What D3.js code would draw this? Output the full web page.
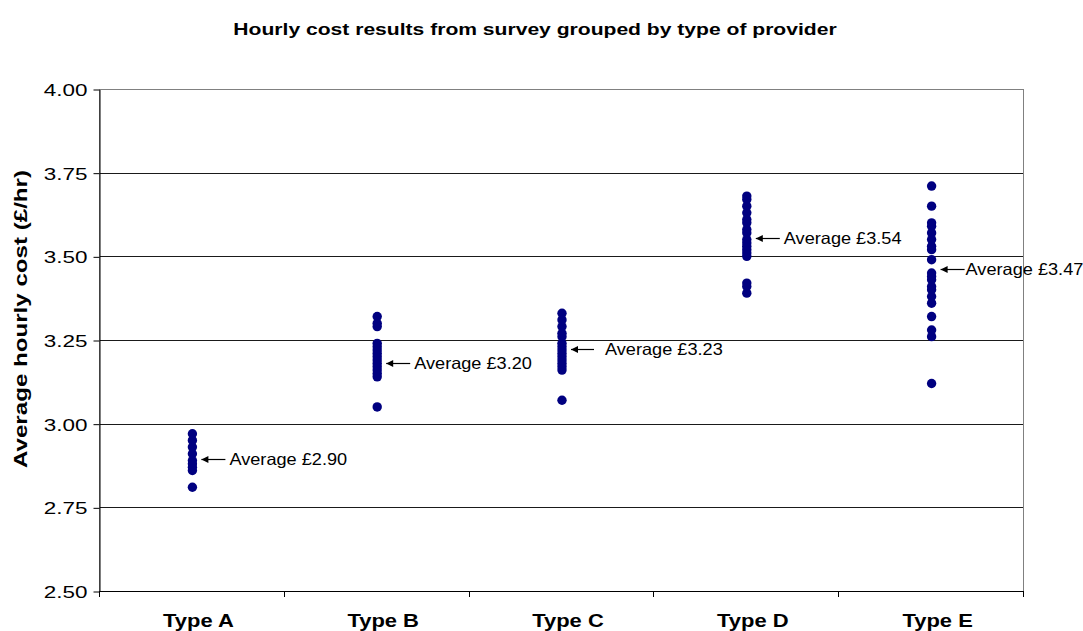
<!DOCTYPE html>
<html><head><meta charset="utf-8">
<script src="https://cdn.jsdelivr.net/npm/d3@7"></script>
<style>body{margin:0;background:#fff}svg{display:block;font-family:"Liberation Sans",Arial,sans-serif}</style>
</head><body><svg id="c" width="1083" height="631"></svg>
<script>
const categories = ["Type A","Type B","Type C","Type D","Type E"];
const typeA = [2.97,2.95,2.93,2.91,2.89,2.88,2.87,2.86,2.81];
const typeB = [3.32,3.30,3.29,3.24,3.23,3.22,3.21,3.20,3.19,3.18,3.17,3.16,3.15,3.14,3.05];
const typeC = [3.33,3.31,3.29,3.27,3.26,3.24,3.23,3.22,3.21,3.20,3.19,3.18,3.17,3.16,3.07];
const typeD = [3.68,3.67,3.65,3.63,3.61,3.60,3.58,3.57,3.55,3.54,3.53,3.52,3.51,3.50,3.42,3.41,3.39];
const typeE = [3.71,3.65,3.60,3.59,3.57,3.55,3.53,3.52,3.49,3.45,3.44,3.43,3.41,3.40,3.38,3.36,3.32,3.28,3.26,3.12];
const averageLabels = ["Average £2.90","Average £3.20","Average £3.23","Average £3.54","Average £3.47"];
const arrowValues = [2.895,3.18,3.222,3.555,3.462];
const yTicks = [2.50,2.75,3.00,3.25,3.50,3.75,4.00];
const series = [typeA,typeB,typeC,typeD,typeE];

const svg = d3.select("#c");
const L=99,R=1023,T=89,B=591;
const x = d3.scaleBand().domain(categories).range([L,R]);
const y = d3.scaleLinear().domain([2.5,4.0]).range([B,T]);
const stretch = (sel,k)=>sel.each(function(){const w=this.getComputedTextLength();d3.select(this).attr("textLength",w*k).attr("lengthAdjust","spacingAndGlyphs");});

svg.append("text").attr("x",535).attr("y",35).attr("text-anchor","middle")
  .attr("font-size",17).attr("font-weight","bold").text("Hourly cost results from survey grouped by type of provider")
  .call(stretch,1.24);

// gridlines
svg.append("g").selectAll("line").data(yTicks.filter(d=>d>2.5&&d<4)).join("line")
  .attr("x1",L).attr("x2",R).attr("y1",d=>Math.round(y(d))+0.5).attr("y2",d=>Math.round(y(d))+0.5)
  .attr("stroke","#1a1a1a").attr("stroke-width",1);
// plot border
svg.append("rect").attr("x",L+0.5).attr("y",T+0.5).attr("width",R-L).attr("height",B-T)
  .attr("fill","none").attr("stroke","#808080");

// y axis
const ya = svg.append("g").attr("transform",`translate(${L+0.5},0.5)`)
  .call(d3.axisLeft(y).tickValues(yTicks).tickFormat(d3.format(".2f")).tickSize(6).tickSizeOuter(0));
ya.select(".domain").attr("stroke","#000");
ya.selectAll("text").attr("font-size",17).attr("fill","#000").attr("font-family","Liberation Sans, Arial, sans-serif")
  .attr("x",-12).attr("dy","0.36em").call(stretch,1.32);
ya.selectAll("line").attr("stroke","#000");

// x axis
svg.append("line").attr("x1",L).attr("x2",R+1).attr("y1",B+0.5).attr("y2",B+0.5).attr("stroke","#000");
const bounds = categories.map(c=>x(c)).concat([R]);
svg.append("g").selectAll("line").data(bounds).join("line")
  .attr("x1",d=>Math.round(d)+0.5).attr("x2",d=>Math.round(d)+0.5).attr("y1",B).attr("y2",B+6).attr("stroke","#000");
svg.append("g").selectAll("text").data(categories).join("text")
  .attr("x",d=>x(d)+x.bandwidth()/2+7).attr("y",627).attr("text-anchor","middle")
  .attr("font-size",18).attr("font-weight","bold").text(d=>d).call(stretch,1.22);

svg.append("text").attr("transform","translate(27,319) rotate(-90)").attr("text-anchor","middle")
  .attr("font-size",18).attr("font-weight","bold").text("Average hourly cost (£/hr)").call(stretch,1.34);

// points
const pts = series.flatMap((s,i)=>s.map(v=>({c:categories[i],v})));
svg.append("g").selectAll("circle").data(pts).join("circle")
  .attr("cx",d=>x(d.c)+x.bandwidth()/2+1).attr("cy",d=>y(d.v)).attr("r",4.7).attr("fill","#000080");

// annotations
const defs = svg.append("defs");
defs.append("marker").attr("id","ah").attr("viewBox","0 0 10 10").attr("refX",10).attr("refY",5)
  .attr("markerWidth",9).attr("markerHeight",7).attr("markerUnits","userSpaceOnUse").attr("orient","auto")
  .append("path").attr("d","M0,0 L10,5 L0,10 Z").attr("fill","#000");
const ann = svg.append("g").selectAll("g").data(categories).join("g");
ann.append("line").attr("x1",(d,i)=>x(d)+x.bandwidth()/2+(i===2?33:34)).attr("x2",(d,i)=>x(d)+x.bandwidth()/2+10)
  .attr("y1",(d,i)=>Math.round(y(arrowValues[i]))+0.5).attr("y2",(d,i)=>Math.round(y(arrowValues[i]))+0.5)
  .attr("stroke","#000").attr("stroke-width",1.2).attr("marker-end","url(#ah)");
ann.append("text").attr("x",(d,i)=>x(d)+x.bandwidth()/2+(i===2?44:(i===4?35:38)))
  .attr("y",(d,i)=>y(arrowValues[i])+6).attr("font-size",16.5).text((d,i)=>averageLabels[i]).call(stretch,1.1);
</script></body></html>
